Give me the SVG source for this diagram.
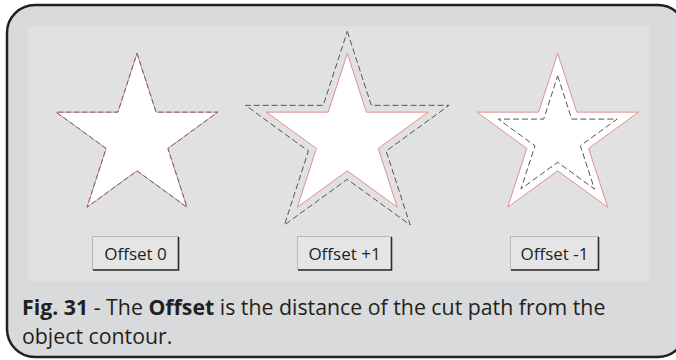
<svg xmlns="http://www.w3.org/2000/svg" width="676" height="360" viewBox="0 0 676 360">
<style>
.frame{fill:#d9dadb;stroke:#231f20;stroke-width:2.5}
.panel{fill:#e1e1e1}
.shape{fill:#ffffff;stroke:#e09090;stroke-width:1}
.cut{fill:none;stroke:#555555;stroke-width:1;stroke-dasharray:6 3}
.cut0{fill:none;stroke:#666666;stroke-width:1;stroke-dasharray:5 3}
.btn{fill:#e5e5e5;stroke:#b8b8b8;stroke-width:1}
.btnshadow{fill:none;stroke:#2a2a2a;stroke-width:1.6}
.btext{font-family:"Open Sans","Liberation Sans",sans-serif;font-size:17px;fill:#231f20;text-anchor:middle}
.cap{font-family:"Open Sans","Liberation Sans",sans-serif;font-size:21.3px;fill:#231f20}
.b{font-weight:bold}
</style>
<defs>
<path id="star" d="M0,-85 L19.1,-26.27 L80.84,-26.27 L30.91,10.04 L49.96,68.77 L0,32.47 L-49.96,68.77 L-30.91,10.04 L-80.84,-26.27 L-19.1,-26.27 Z"/>
</defs>
<rect class="frame" x="7" y="5" width="679" height="352" rx="28" ry="28"/>
<rect class="panel" x="28" y="26" width="621" height="255"/>
<g id="star-offset0">
<use href="#star" class="shape" transform="translate(137,138.4)"/>
<use href="#star" class="cut0" transform="translate(137,138.4)"/>
</g>
<g id="star-offset-plus1">
<use href="#star" class="shape" transform="translate(347.3,138.4)"/>
<path class="cut" transform="translate(347.3,138.4)" d="M0,-107 L24.02,-33.06 L101.76,-33.06 L38.87,12.63 L62.89,86.56 L0,40.87 L-62.89,86.56 L-38.87,12.63 L-101.76,-33.06 L-24.02,-33.06 Z"/>
</g>
<g id="star-offset-minus1">
<use href="#star" class="shape" transform="translate(557.7,138.4)"/>
<path class="cut" transform="translate(557.7,138.4)" d="M0,-62.5 L14.03,-19.31 L59.44,-19.31 L22.7,7.38 L36.74,50.56 L0,23.87 L-36.74,50.56 L-22.7,7.38 L-59.44,-19.31 L-14.03,-19.31 Z"/>
</g>
<g id="btn-offset0">
<rect class="btn" x="92.5" y="236.5" width="86" height="33"/>
<polyline class="btnshadow" points="178.5,237 178.5,270 93,270"/>
<text class="btext" x="135.5" y="259.5">Offset 0</text>
</g>
<g id="btn-offset-plus1">
<rect class="btn" x="297.5" y="236.5" width="94" height="33"/>
<polyline class="btnshadow" points="391.5,237 391.5,270 298,270"/>
<text class="btext" x="344.5" y="259.5">Offset +1</text>
</g>
<g id="btn-offset-minus1">
<rect class="btn" x="510.5" y="236.5" width="88" height="33"/>
<polyline class="btnshadow" points="598.5,237 598.5,270 511,270"/>
<text class="btext" x="554.5" y="259.5">Offset -1</text>
</g>
<g id="caption">
<text class="cap" x="22" y="315"><tspan class="b">Fig. 31</tspan> - The <tspan class="b">Offset</tspan> is the distance of the cut path from the</text>
<text class="cap" x="22" y="344">object contour.</text>
</g>
<g id="connectors"/>
</svg>
